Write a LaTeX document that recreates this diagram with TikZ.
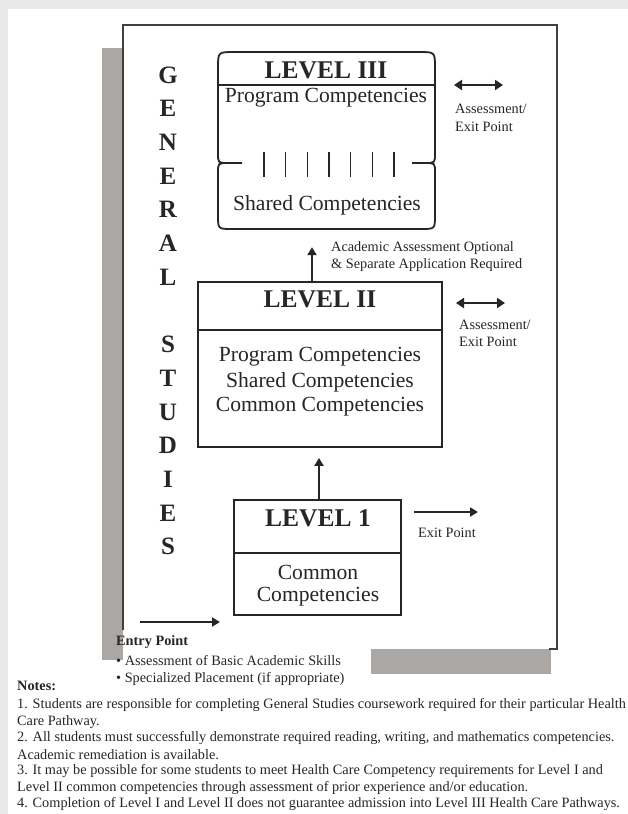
\documentclass[tikz,border=0pt]{standalone}
\usepackage{fontspec}
\setmainfont{Liberation Serif}
\usetikzlibrary{arrows.meta}
\definecolor{bgray}{HTML}{E9E9E9}
\definecolor{shadegray}{HTML}{AAA7A4}
\definecolor{ink}{HTML}{262626}
\definecolor{framec}{HTML}{404040}
\begin{document}
\begin{tikzpicture}[x=1pt,y=-1pt,
  lvl/.style={font=\fontsize{25.5}{28}\selectfont\bfseries, inner sep=0pt, text=ink},
  comp/.style={font=\fontsize{21.6}{24}\selectfont, inner sep=0pt, text=ink},
  small/.style={font=\fontsize{14.3}{16}\selectfont, inner sep=0pt, anchor=west, text=ink},
  smallb/.style={small, font=\fontsize{14.3}{16}\selectfont\bfseries},
  gs/.style={font=\fontsize{25}{28}\selectfont\bfseries, inner sep=0pt, text=ink},
  boxline/.style={draw=ink, line width=1.8pt},
  conn/.style={draw=ink, line width=2pt, -{Triangle[length=8pt,width=9pt]}},
  dbl/.style={draw=ink, line width=2.5pt, {Triangle[length=8pt,width=10pt]}-{Triangle[length=8pt,width=10pt]}},
]
\useasboundingbox (0,0) rectangle (628,814);
% page background
\fill[bgray] (0,0) rectangle (628,814);
\fill[white] (8,9) rectangle (628,814);
% shadow bars
\fill[shadegray] (102,48) rectangle (123,660);
\fill[shadegray] (371,649) rectangle (551,674);
% main frame (open at bottom left)
\fill[white] (123,25) rectangle (557,649);
\draw[framec, line width=2pt] (123,630) -- (123,25) -- (557,25) -- (557,649) -- (549,649);

% GENERAL STUDIES
\foreach \ch [count=\i from 0] in {G,E,N,E,R,A,L}
  \node[gs] (g\i) at (168,{75+33.7*\i}) {\ch};
\foreach \ch [count=\i from 8] in {S,T,U,D,I,E,S}
  \node[gs] (s\i) at (168,{75+33.7*\i}) {\ch};

% LEVEL III shape
\def\Lx{218}\def\Rx{435}\def\Ty{52}\def\By{229}\def\Jy{163}
\draw[ink, line width=1.8pt]
  (234,\Ty) -- (419,\Ty) .. controls (\Rx,\Ty) .. (\Rx,68) -- (\Rx,153)
  .. controls (\Rx,\Jy) .. (425,\Jy) -- (412,\Jy)
  (425,\Jy) .. controls (\Rx,\Jy) .. (\Rx,173) -- (\Rx,215)
  .. controls (\Rx,\By) .. (421,\By) -- (232,\By)
  .. controls (\Lx,\By) .. (\Lx,215) -- (\Lx,173)
  .. controls (\Lx,\Jy) .. (228,\Jy) -- (242,\Jy)
  (228,\Jy) .. controls (\Lx,\Jy) .. (\Lx,153) -- (\Lx,68)
  .. controls (\Lx,\Ty) .. (234,\Ty);
\draw[ink, line width=1.8pt] (\Lx,85) -- (\Rx,85);
\node[minimum width=217, minimum height=177, inner sep=0] (L3) at (326.5,140.5) {};
\node[lvl] (L3t) at (326,70) {LEVEL III};
\node[comp] (L3p) at (326,98) {Program Competencies};
\node[comp] (L3s) at (327,205) {Shared Competencies};
\foreach \k in {0,...,6}
  \draw[ink, line width=1.4pt] ({264+21.67*\k},152) -- ({264+21.67*\k},177);

% LEVEL II
\node[boxline, minimum width=244, minimum height=165, inner sep=0] (L2) at (320,364.5) {};
\draw[ink, line width=1.8pt] (198,330) -- (442,330);
\node[lvl] (L2t) at (320,299) {LEVEL II};
\node[comp] (L2a) at (320,357) {Program Competencies};
\node[comp] (L2b) at (320,382) {Shared Competencies};
\node[comp] (L2c) at (320,407) {Common Competencies};

% LEVEL 1
\node[boxline, minimum width=167, minimum height=115, inner sep=0] (L1) at (317.5,557.5) {};
\draw[ink, line width=1.8pt] (234,553) -- (401,553);
\node[lvl] (L1t) at (318,518) {LEVEL 1};
\node[comp] (L1a) at (318,572) {Common};
\node[comp] (L1b) at (318,597) {Competencies};

% vertical connectors
\draw[conn, shorten >=10pt] ([xshift=1.5pt]L1.north) -- ([xshift=1.5pt]L1.north |- L2.south);
\draw[conn, line width=2.5pt, shorten >=18pt] ([xshift=-8pt]L2.north) -- ([xshift=-8pt]L2.north |- L3.south);
\node[small] (acad1) at (331,248) {Academic Assessment Optional};
\node[small] (acad2) at (331,265) {\& Separate Application Required};

% side arrows
\coordinate (d3a) at (454,85); \coordinate (d3b) at (503,85);
\draw[dbl] (d3a) -- (d3b);
\node[small] (ae3a) at (455,109) {Assessment/};
\node[small] (ae3b) at (455,127) {Exit Point};
\coordinate (d2a) at (456,303); \coordinate (d2b) at (505,303);
\draw[dbl] (d2a) -- (d2b);
\node[small] (ae2a) at (459,325) {Assessment/};
\node[small] (ae2b) at (459,342) {Exit Point};
\coordinate (x1a) at (414,512); \coordinate (x1b) at (478,512);
\draw[conn] (x1a) -- (x1b);
\node[small] (ex1) at (418,533) {Exit Point};

% entry
\coordinate (en1) at (140,622); \coordinate (en2) at (220,622);
\draw[conn] (en1) -- (en2);
\node[smallb] (entry) at (116,642) {Entry Point};
\node[small] (b1) at (116,661) {\textbullet\ Assessment of Basic Academic Skills};
\node[small] (b2) at (116,679) {\textbullet\ Specialized Placement (if appropriate)};

% notes
\node[smallb] (notes) at (17,686) {Notes:};
\node[small] (n1) at (17,705) {1. Students are responsible for completing General Studies coursework required for their particular Health};
\node[small] (n1b) at (17,722) {Care Pathway.};
\node[small] (n2) at (17,738) {2. All students must successfully demonstrate required reading, writing, and mathematics competencies.};
\node[small] (n2b) at (17,755) {Academic remediation is available.};
\node[small] (n3) at (17,771) {3. It may be possible for some students to meet Health Care Competency requirements for Level I and};
\node[small] (n3b) at (17,788) {Level II common competencies through assessment of prior experience and/or education.};
\node[small] (n4) at (17,804) {4. Completion of Level I and Level II does not guarantee admission into Level III Health Care Pathways.};
\end{tikzpicture}
\end{document}
